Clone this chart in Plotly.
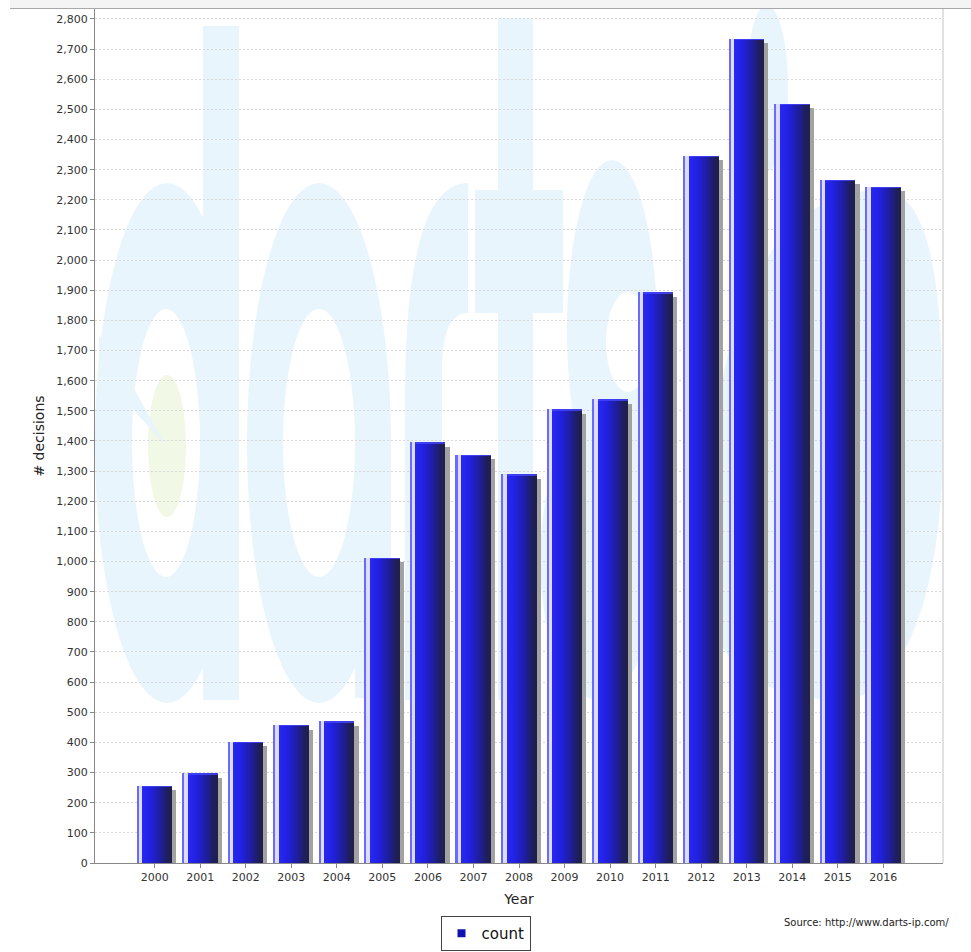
import plotly.graph_objects as go
import math

# ---------------- data ----------------
YEARS = [2000, 2001, 2002, 2003, 2004, 2005, 2006, 2007, 2008,
         2009, 2010, 2011, 2012, 2013, 2014, 2015, 2016]
COUNTS = [255, 297, 402, 457, 470, 1012, 1395, 1353, 1289,
          1505, 1538, 1893, 2346, 2734, 2518, 2266, 2244]
TICK_LABELS = [str(y) for y in YEARS]
SERIES_NAME = "count"

# ---------------- layout geometry ----------------
W, H = 971, 952
ML, MR, MT, MB = 95, 28, 9, 89
PW, PH = W - ML - MR, H - MT - MB
X_RANGE = [1998.69, 2017.31]
Y_RANGE = [0, 2833]
PX_PER_CAT = PW / (X_RANGE[1] - X_RANGE[0])
PX_PER_UNIT = PH / (Y_RANGE[1] - Y_RANGE[0])


def u(px):
    """pixel width -> category units"""
    return px / PX_PER_CAT


def px_x(px):
    return (px - ML) / PW


def px_y(py):
    return (H - MB - py) / PH


fig = go.Figure()

# shadow
SHADOW_DY = 4.3 / PX_PER_UNIT
fig.add_trace(go.Bar(
    x=YEARS, y=[v - SHADOW_DY for v in COUNTS],
    offset=u(-13.3), width=u(35), marker=dict(color="#a2a2a2", line=dict(width=0)),
    showlegend=False, hoverinfo="skip"))

# left highlight stripes
fig.add_trace(go.Bar(
    x=YEARS, y=COUNTS, offset=u(-17.5), width=u(1.8),
    marker=dict(color="#6a6aff", line=dict(width=0)),
    showlegend=False, hoverinfo="skip"))
fig.add_trace(go.Bar(
    x=YEARS, y=COUNTS, offset=u(-15.9), width=u(3.6),
    marker=dict(color="#dcdcff", line=dict(width=0)),
    showlegend=False, hoverinfo="skip"))

# gradient body
stops = [(0.0, (40, 40, 246)), (0.3, (32, 32, 222)), (0.6, (30, 30, 160)),
         (0.85, (30, 30, 92)), (1.0, (32, 32, 72))]


def grad(t):
    for (t0, c0), (t1, c1) in zip(stops[:-1], stops[1:]):
        if t <= t1:
            f = (t - t0) / (t1 - t0)
            return "rgb(%d,%d,%d)" % tuple(round(a + (b - a) * f) for a, b in zip(c0, c1))
    return "rgb(%d,%d,%d)" % stops[-1][1]


N = 15
body_left, body_w = -12.5, 30.0
for i in range(N):
    t = (i + 0.5) / N
    left = body_left + body_w * i / N
    wpx = body_w / N + (0.6 if i < N - 1 else 0)
    fig.add_trace(go.Bar(
        x=YEARS, y=COUNTS, offset=u(left), width=u(wpx),
        marker=dict(color=grad(t), line=dict(width=0)),
        showlegend=False, hoverinfo="skip"))

# top edge highlight
TOP_H = 1.2 / PX_PER_UNIT
fig.add_trace(go.Bar(
    x=YEARS, y=[TOP_H] * len(COUNTS), base=[v - TOP_H for v in COUNTS],
    offset=u(-12.5), width=u(30), marker=dict(color="rgba(70,70,255,0.8)", line=dict(width=0)),
    showlegend=False, hoverinfo="skip"))

# legend entry
fig.add_trace(go.Scatter(
    x=[None], y=[None], mode="markers", name=SERIES_NAME,
    marker=dict(symbol="square", size=8, color="#1212b0")))

# ---------------- watermark shapes ----------------
WM = "#e9f5fc"


def ellipse_pts(cx, cy, rx, ry, n=72):
    return [(cx + rx * math.cos(2 * math.pi * k / n), cy + ry * math.sin(2 * math.pi * k / n)) for k in range(n)]


def poly_path(pts):
    return "M " + " L ".join("%.5f,%.5f" % (px_x(x), px_y(y)) for x, y in pts) + " Z"


def shape_path(paths, color, evenodd=False):
    d = dict(type="path", path=" ".join(paths), xref="paper", yref="paper",
             fillcolor=color, line=dict(width=0), layer="below")
    if evenodd:
        d["fillrule"] = "evenodd"
    return d


def bez(p0, p1, p2, p3, n=20):
    out = []
    for k in range(n + 1):
        t = k / n
        a = (1 - t) ** 3
        b = 3 * (1 - t) ** 2 * t
        c = 3 * (1 - t) * t ** 2
        d = t ** 3
        out.append((a * p0[0] + b * p1[0] + c * p2[0] + d * p3[0],
                    a * p0[1] + b * p1[1] + c * p2[1] + d * p3[1]))
    return out


shapes = []
# d
shapes.append(shape_path([poly_path(ellipse_pts(167, 443, 72, 260)),
                          poly_path(ellipse_pts(166, 443, 34, 134))], WM, True))
shapes.append(shape_path([poly_path([(203, 26), (239, 26), (239, 700), (203, 700)])], WM))
shapes.append(shape_path([poly_path(ellipse_pts(167, 446, 19, 71))], "#f2f8e6"))
shapes.append(shape_path([poly_path([(99, 336), (108, 342), (166, 446), (99, 372)])], WM))
# a
shapes.append(shape_path([poly_path(ellipse_pts(319, 443, 72, 260)),
                          poly_path(ellipse_pts(319, 443, 36, 134))], WM, True))
shapes.append(shape_path([poly_path([(355, 443), (391, 443), (391, 698), (355, 698)])], WM))
# r
r_pts = [(405, 700), (405, 400)] + bez((405, 400), (405, 260), (425, 183), (468, 183))[1:] + \
        [(468, 313)] + bez((468, 313), (452, 313), (442, 330), (442, 370))[1:] + [(442, 700)]
shapes.append(shape_path([poly_path(r_pts)], WM))
# t
shapes.append(shape_path([poly_path([(498, 18), (533, 18), (533, 700), (498, 700)])], WM))
shapes.append(shape_path([poly_path([(475, 190), (563, 190), (563, 313), (475, 313)])], WM))
# s
shapes.append(shape_path([poly_path(ellipse_pts(612, 330, 45, 170)),
                          poly_path(ellipse_pts(628, 342, 22, 50))], WM, True))
shapes.append(shape_path([poly_path(ellipse_pts(767, 88, 21, 83))], WM))
shapes.append(shape_path([poly_path(ellipse_pts(598, 560, 58, 140))], WM))
lr = bez((707, 600), (700, 300), (780, 190), (880, 190)) + bez((880, 190), (935, 190), (943, 300), (943, 440))[1:] + \
     bez((943, 440), (943, 600), (900, 700), (840, 700))[1:] + bez((840, 700), (760, 700), (712, 660), (707, 600))[1:]
shapes.append(shape_path([poly_path(lr)], WM))

# top grey band
shapes.append(dict(type="rect", xref="paper", yref="paper",
                   x0=px_x(10), x1=px_x(W), y0=px_y(8), y1=px_y(0),
                   fillcolor="#f4f4f4", line=dict(width=0), layer="below"))
shapes.append(dict(type="line", xref="paper", yref="paper",
                   x0=px_x(10), x1=px_x(W), y0=px_y(8.5), y1=px_y(8.5),
                   line=dict(color="#a8a8a8", width=1)))
# right plot border
shapes.append(dict(type="line", xref="paper", yref="paper",
                   x0=1, x1=1, y0=0, y1=1, line=dict(color="#c4c4c4", width=1)))

FONT = "DejaVu Sans"

fig.update_layout(
    width=W, height=H,
    margin=dict(l=ML, r=MR, t=MT, b=MB, pad=0, autoexpand=False),
    paper_bgcolor="white", plot_bgcolor="rgba(0,0,0,0)",
    barmode="overlay", bargap=0,
    font=dict(family=FONT, color="#333"),
    shapes=shapes,
    showlegend=True,
    legend=dict(x=px_x(485.5), y=px_y(951), xanchor="center", yanchor="bottom",
                bgcolor="white", bordercolor="#444", borderwidth=1,
                font=dict(family=FONT, size=15, color="#111"),
                itemwidth=30, tracegroupgap=0),
    annotations=[dict(text="Source: http://www.darts-ip.com/", xref="paper", yref="paper",
                      x=px_x(951), y=px_y(922), xanchor="right", yanchor="middle",
                      showarrow=False, font=dict(family=FONT, size=10, color="#222"))],
)

fig.update_xaxes(
    range=X_RANGE, tickmode="array", tickvals=YEARS, ticktext=TICK_LABELS,
    showgrid=False, zeroline=False, showline=True, linecolor="#888", linewidth=1,
    ticks="outside", ticklen=4, tickcolor="#888",
    tickfont=dict(family=FONT, size=11, color="#333"),
    title=dict(text="Year", font=dict(family=FONT, size=14, color="#222"), standoff=10),
    fixedrange=True)

fig.update_yaxes(
    range=Y_RANGE, tick0=0, dtick=100, tickformat=",",
    showgrid=True, gridcolor="#d8d8d8", gridwidth=1, griddash="2px,2px",
    zeroline=False, showline=True, linecolor="#888", linewidth=1,
    ticks="outside", ticklen=4, tickcolor="#888",
    tickfont=dict(family=FONT, size=11, color="#333"),
    title=dict(text="# decisions", font=dict(family=FONT, size=14, color="#222"), standoff=8),
    fixedrange=True)

fig.write_html("out.html")
